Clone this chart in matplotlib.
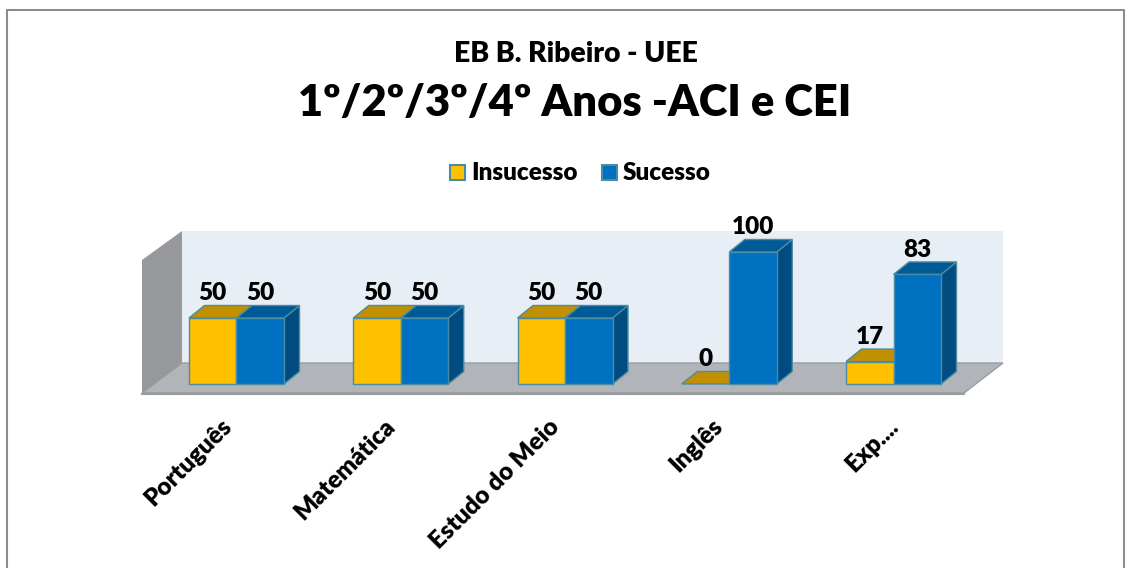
import matplotlib
matplotlib.use("Agg")
import matplotlib.pyplot as plt
from matplotlib.patches import Polygon, Rectangle

plt.rcParams['font.family'] = ['Lato', 'DejaVu Sans']

categories = ["Português", "Matemática", "Estudo do Meio", "Inglês", "Exp...."]
insucesso = [50, 50, 50, 0, 17]
sucesso = [50, 50, 50, 100, 83]

# scale of the data axes, in pixels
W, H = 1131, 568
x0_px, x_step = 236.5, 164.25
y0_px, y_step = 384, 1.32

bar_w = 47.5 / x_step
dx = 15.5 / x_step
dy = 12.5 / y_step
weight = "heavy"
# the tick labels do not all sit the same way under their group
label_nudge = [0, -1, -1, -2, 10]


def X(px):
    return (px - x0_px) / x_step


def Y(px):
    return (y0_px - px) / y_step


def bar3d(ax, x, v, front, top, side):
    edge = "#4a8ca3"
    ax.add_patch(Polygon([(x + bar_w, 0), (x + bar_w + dx, dy), (x + bar_w + dx, v + dy), (x + bar_w, v)],
                         fc=side, ec=edge, lw=1, zorder=3))
    ax.add_patch(Polygon([(x, v), (x + dx, v + dy), (x + bar_w + dx, v + dy), (x + bar_w, v)],
                         fc=top, ec=edge, lw=1, zorder=3))
    if v > 0:
        ax.add_patch(Rectangle((x, 0), bar_w, v, fc=front, ec=edge, lw=1, zorder=3))


fig = plt.figure(figsize=(W / 100, H / 100), dpi=100)
ax = fig.add_axes([0, 0, 1, 1])
ax.set_xlim(X(0), X(W))
ax.set_ylim(Y(H), Y(0))
ax.axis("off")

# chart frame
ax.plot([X(7), X(7), X(1124), X(1124)], [Y(H), Y(10), Y(10), Y(H)], color="#8c8c8c", lw=1.5, zorder=1)

# walls and floor
ax.add_patch(Polygon([(X(182), Y(231)), (X(1003), Y(231)), (X(1003), Y(363)), (X(182), Y(363))], fc="#e8eef5", ec="none"))
ax.add_patch(Polygon([(X(142), Y(260)), (X(182), Y(231)), (X(182), Y(363)), (X(142), Y(394))], fc="#96989b", ec="none"))
ax.add_patch(Polygon([(X(142), Y(393)), (X(182), Y(363)), (X(1003), Y(363)), (X(964), Y(393))], fc="#b1b5b9", ec="#999c9f", lw=1))
ax.plot([X(142), X(964)], [Y(394), Y(394)], color="#9a9da0", lw=1.5, zorder=2)

for i in range(len(categories)):
    x1 = i - bar_w
    x2 = i
    bar3d(ax, x1, insucesso[i], "#ffc000", "#c09000", "#bf9000")
    bar3d(ax, x2, sucesso[i], "#0070c0", "#005a96", "#004b80")
    ax.text(x1 + bar_w / 2, insucesso[i] + 24.5 / y_step, str(insucesso[i]), ha="center", va="center",
            fontsize=17.5, fontweight=weight, color="black", zorder=5)
    ax.text(x2 + bar_w / 2, sucesso[i] + 24.5 / y_step, str(sucesso[i]), ha="center", va="center",
            fontsize=17.5, fontweight=weight, color="black", zorder=5)
    ax.text(i - 0.1 + label_nudge[i] / x_step, Y(415), categories[i], rotation=45, rotation_mode="anchor",
            ha="right", va="top", fontsize=17.5, fontweight=weight, color="black")

# titles
ax.text(X(575.5), Y(53.5), "EB B. Ribeiro - UEE", ha="center", va="center", fontsize=20.4, fontweight=weight)
ax.text(X(575), Y(103.5), "1º/2º/3º/4º Anos -ACI e CEI", ha="center", va="center", fontsize=31.3, fontweight=weight)

# legend
ax.add_patch(Rectangle((X(450), Y(180)), 15 / x_step, 15 / y_step, fc="#ffc000", ec="#4a8ca3", lw=1.5))
ax.text(X(471), Y(173.5), "Insucesso", ha="left", va="center", fontsize=17.5, fontweight=weight)
ax.add_patch(Rectangle((X(602), Y(180)), 15 / x_step, 15 / y_step, fc="#0070c0", ec="#4a8ca3", lw=1.5))
ax.text(X(623), Y(173.5), "Sucesso", ha="left", va="center", fontsize=17.5, fontweight=weight)

fig.savefig("out.png", dpi=100)
